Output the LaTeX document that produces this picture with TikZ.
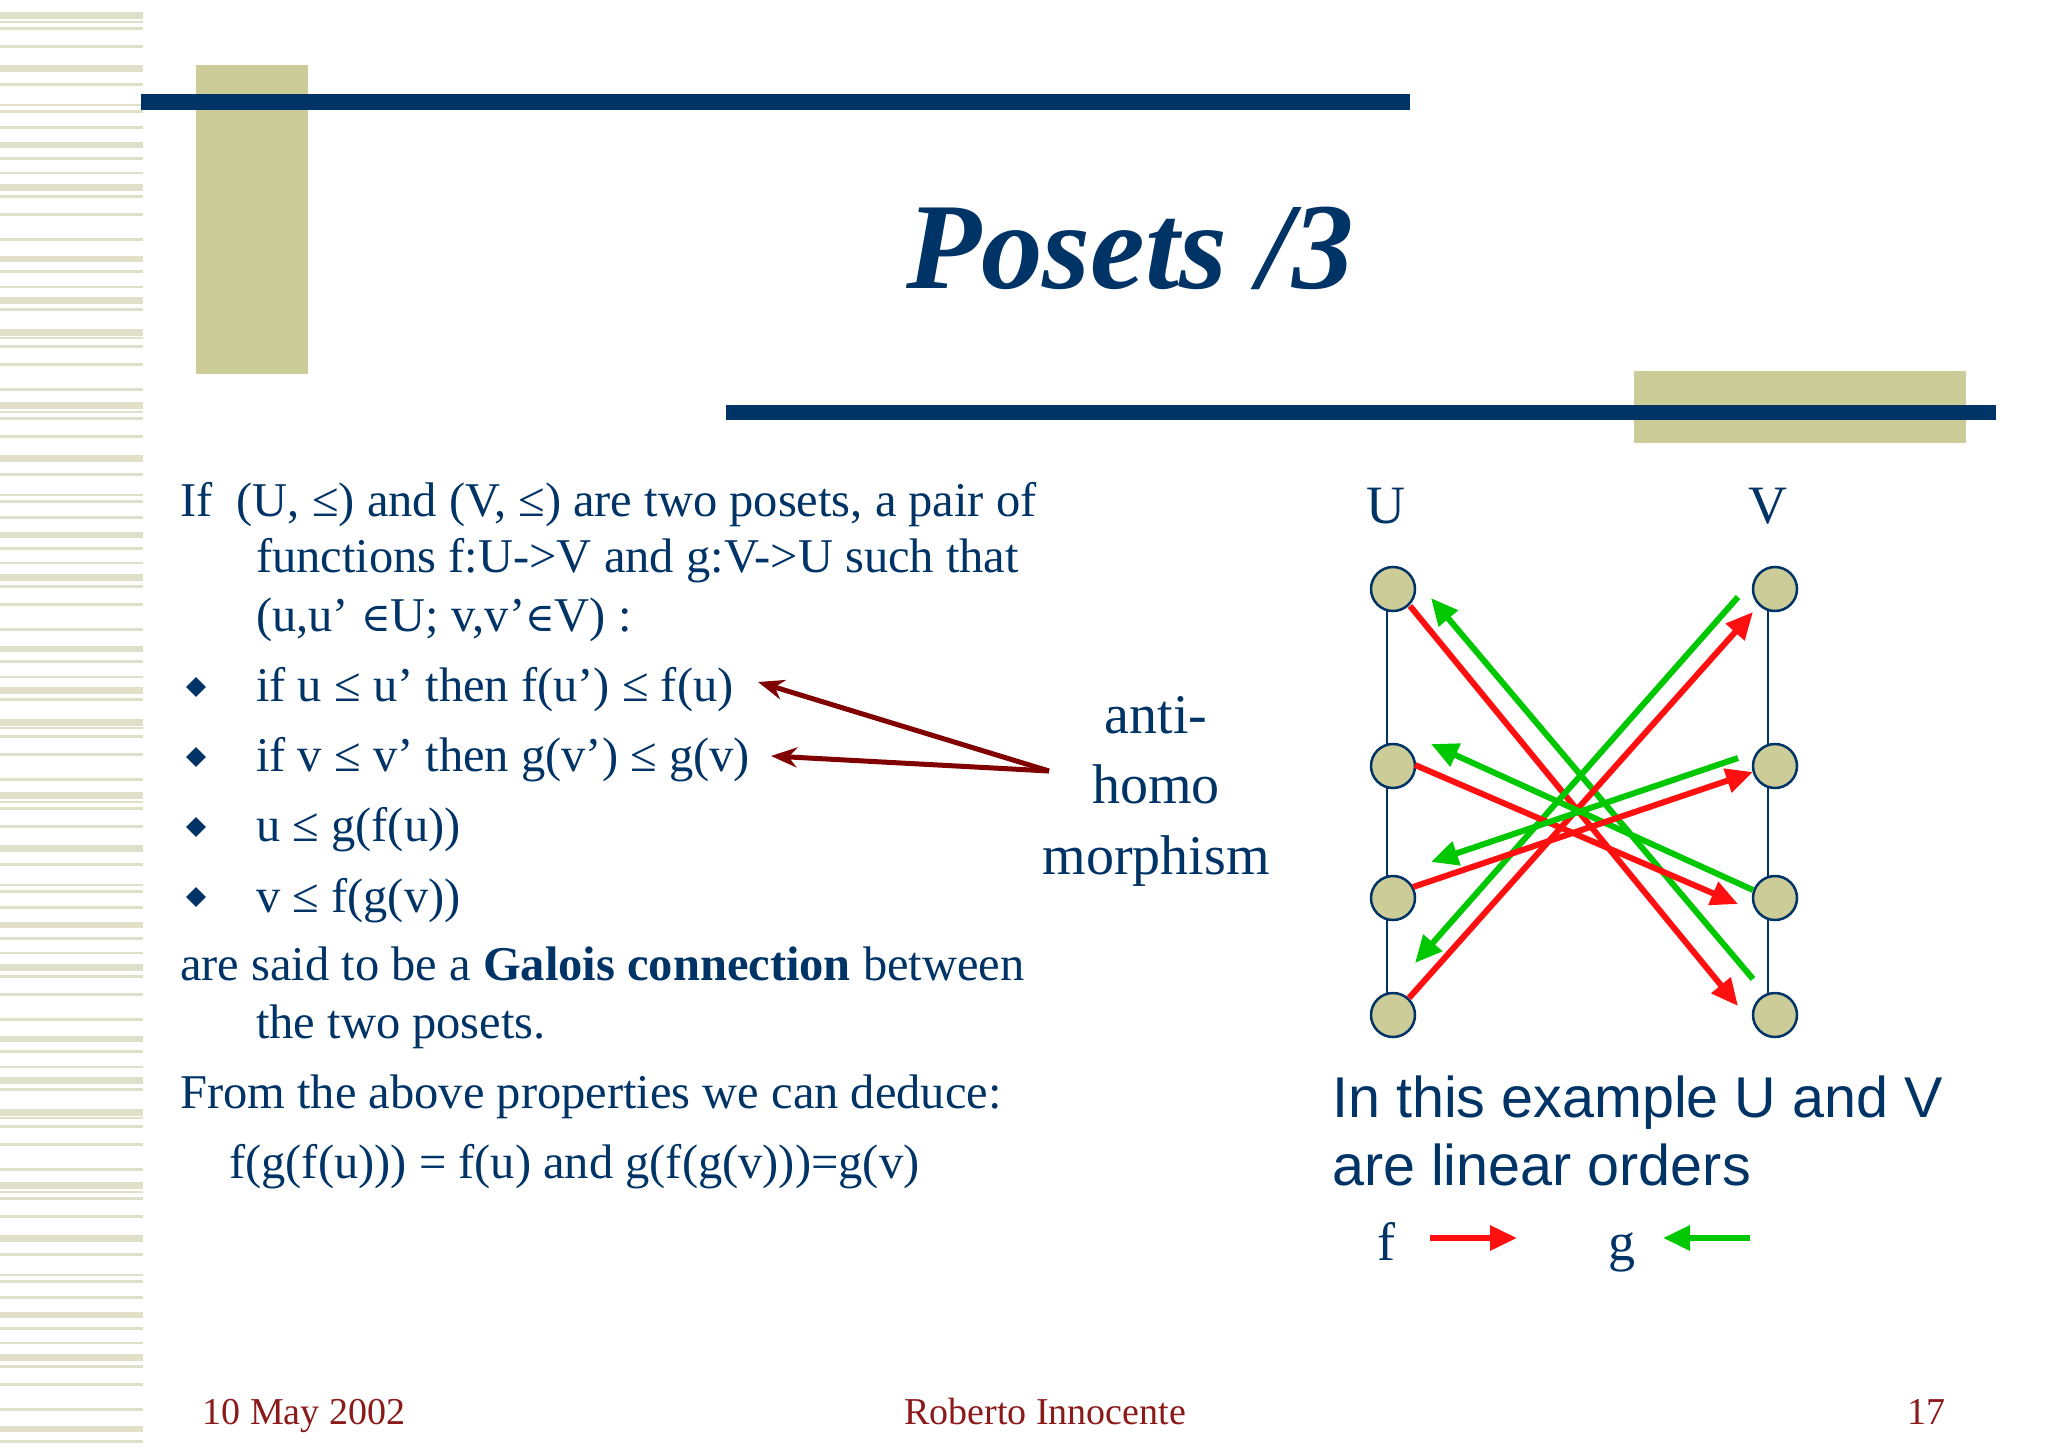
\documentclass[tikz,border=0pt]{standalone}
\usepackage{fontspec}
\setmainfont{Liberation Serif}
\newfontfamily\arialf{Liberation Sans}
\newfontfamily\dvs{DejaVu Serif}
\newcommand{\elem}{{\dvs\fontsize{40}{48}\selectfont ∈}}
\usetikzlibrary{arrows.meta}
\definecolor{navy}{HTML}{003366}
\definecolor{olive}{HTML}{CCCC99}
\definecolor{stripe}{HTML}{E0E0C8}
\definecolor{foot}{HTML}{8B1A1A}
\definecolor{darr}{HTML}{800000}
\definecolor{gr}{HTML}{00C800}
\definecolor{rd}{HTML}{FF1010}
\tikzset{
 body/.style={anchor=base west,inner sep=0,text=navy,font=\fontsize{48.5}{56}\selectfont},
 foottext/.style={anchor=base,inner sep=0,text=foot,font=\fontsize{38}{44}\selectfont},
 pnode/.style={circle,draw=navy,line width=2.5pt,fill=olive,minimum size=44pt,inner sep=0},
 farr/.style={rd,line width=6pt,-{Triangle[length=27pt,width=24pt]}},
 garr/.style={gr,line width=6pt,-{Triangle[length=27pt,width=24pt]}},
 darrow/.style={darr,line width=5pt,-{Stealth[length=26pt,width=20pt]}},
 bul/.style={fill=navy,rotate=45,minimum size=14pt,inner sep=0},
}
\begin{document}
\begin{tikzpicture}[x=1pt,y=-1pt]
\useasboundingbox (0,0) rectangle (2048,1447);
\fill[white] (0,0) rectangle (2048,1447);
% stripes
\foreach \o in {0,390,780,1170}{
 \foreach \y/\t in {12/7,21/2,27/3,45/3,65/7,83/3,104/2,110/3,126/3,142/6,157/3,172/2,184/7,195/3,213/3,238/3,256/6,270/3,286/2,297/7,308/3,329/7,337/2,345/3,363/3,388/3}{
  \pgfmathsetmacro\yy{\o+\y}
  \ifdim\yy pt<1447pt \fill[stripe] (0,\yy) rectangle (143,\yy+\t); \fi
 }}
% header decorations
\fill[olive] (196,65) rectangle (308,374);
\fill[navy] (141,94) rectangle (1410,110);
\fill[olive] (1634,371) rectangle (1966,443);
\fill[navy] (726,405) rectangle (1996,420);
\node[anchor=center,text=navy,font=\fontsize{123}{135}\selectfont\bfseries\itshape] (title) at (1130,248) {Posets /3};
% body text
\node[body] (l1) at (180,516) {If\ \ (U, ≤) and (V, ≤) are two posets, a pair of};
\node[body] (l2) at (256,572) {functions f:U->V and g:V->U such that};
\node[body] (l3) at (256,631) {(u,u’ \elem U; v,v’\elem V) :};
\node[body] (b1) at (256,701) {if u ≤ u’ then f(u’) ≤ f(u)};
\node[body] (b2) at (256,771) {if v ≤ v’ then g(v’) ≤ g(v)};
\node[body] (b3) at (256,841) {u ≤ g(f(u))};
\node[body] (b4) at (256,912) {v ≤ f(g(v))};
\foreach \y [count=\i] in {687,757,827,897}{\node[bul] (d\i) at (196,\y) {};}
\node[body] (l4) at (180,980) {are said to be a \textbf{Galois connection} between};
\node[body] (l5) at (256,1038) {the two posets.};
\node[body] (l6) at (180,1108) {From the above properties we can deduce:};
\node[body] (l7) at (229,1178) {f(g(f(u))) = f(u) and g(f(g(v)))=g(v)};
% anti-homomorphism
\node[anchor=base,inner sep=0,text=navy,font=\fontsize{56}{64}\selectfont] (a1) at (1156,733) {anti-};
\node[anchor=base,inner sep=0,text=navy,font=\fontsize{56}{64}\selectfont] (a2) at (1156,803) {homo};
\node[anchor=base,inner sep=0,text=navy,font=\fontsize{56}{64}\selectfont] (a3) at (1156,874) {morphism};
\coordinate (as) at (1049,771);
\coordinate (ae1) at (758,682);
\coordinate (ae2) at (771,756);
\draw[darrow] (as) -- (ae1);
\draw[darrow] (as) -- (ae2);
% diagram
\draw[navy,line width=1.5pt] (1387,589) -- (1387,1015);
\draw[navy,line width=1.5pt] (1768,589) -- (1768,1015);
\foreach \y [count=\i] in {589,766,898,1015}{
 \node[pnode] (u\i) at (1393,\y) {};
 \node[pnode] (v\i) at (1775,\y) {};
}
\node[text=navy,font=\fontsize{54}{60}\selectfont] (U) at (1386,506) {U};
\node[text=navy,font=\fontsize{54}{60}\selectfont] (V) at (1768,506) {V};
\draw[farr] (1410,606) -- (1738,1006);
\draw[garr] (1753,979) -- (1431,598);
\draw[farr] (1409,998) -- (1753,612);
\draw[garr] (1738,597) -- (1415,963);
\draw[farr] (1415,765) -- (1738,904);
\draw[garr] (1753,890) -- (1431,744);
\draw[farr] (1413,887) -- (1753,772);
\draw[garr] (1738,758) -- (1431,862);
% caption
\node[anchor=base west,inner sep=0,text=navy,font=\arialf\fontsize{57.5}{66}\selectfont] (c1) at (1332,1117) {In this example U and V};
\node[anchor=base west,inner sep=0,text=navy,font=\arialf\fontsize{57.5}{66}\selectfont] (c2) at (1332,1185) {are linear orders};
\node[anchor=base,inner sep=0,text=navy,font=\fontsize{54}{60}\selectfont] (f) at (1386,1260) {f};
\node[anchor=base,inner sep=0,text=navy,font=\fontsize{54}{60}\selectfont] (g) at (1622,1260) {g};
\coordinate (fa) at (1430,1238); \coordinate (fb) at (1517,1238);
\coordinate (ga) at (1750,1238); \coordinate (gb) at (1663,1238);
\draw[farr] (fa) -- (fb);
\draw[garr] (ga) -- (gb);
% footer
\node[foottext] (date) at (304,1424) {10 May 2002};
\node[foottext] (auth) at (1045,1424) {Roberto Innocente};
\node[foottext,anchor=base east] (num) at (1946,1424) {17};
\end{tikzpicture}
\end{document}
